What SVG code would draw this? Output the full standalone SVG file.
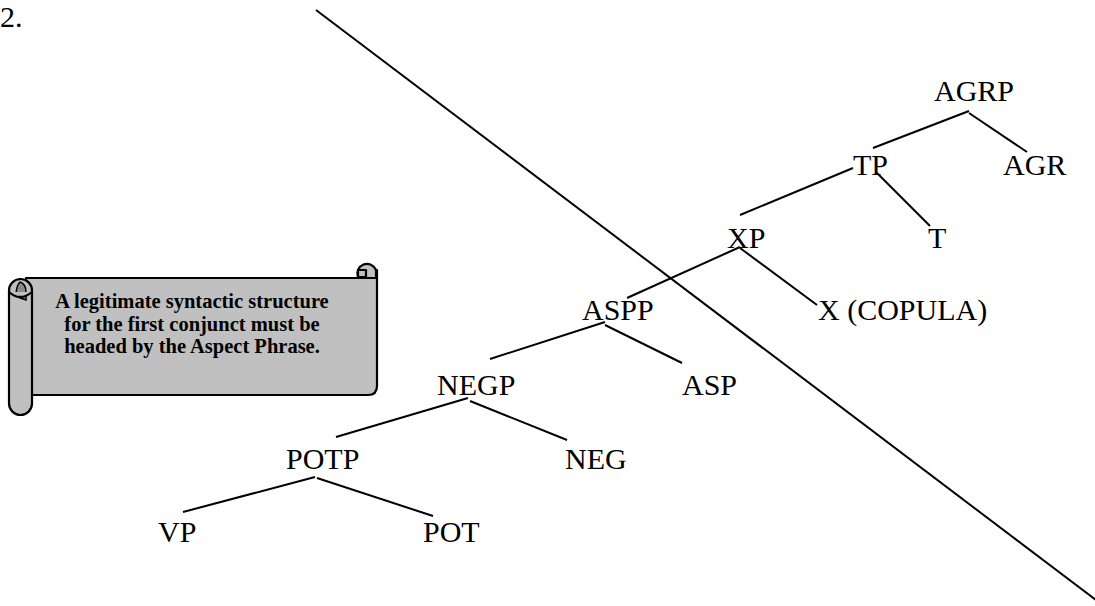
<svg xmlns="http://www.w3.org/2000/svg" width="1095" height="606" viewBox="0 0 1095 606">
<style>
.lbl{font-family:"Liberation Serif","Times New Roman",serif;font-size:30px;fill:#000}
.note{font-family:"Liberation Serif","Times New Roman",serif;font-size:20.5px;font-weight:bold;fill:#000;text-anchor:middle}
.edge{stroke:#000;stroke-width:2;fill:none}
.scroll{fill:#c0c0c0;stroke:#000;stroke-width:2.2;stroke-linejoin:round}
</style>
<rect width="1095" height="606" fill="#fff"/>
<text class="lbl" x="0" y="27">2.</text>
<g id="connectors">
<line class="edge" x1="316" y1="10" x2="1096" y2="600"/>
<line class="edge" x1="969" y1="111" x2="873" y2="148"/>
<line class="edge" x1="969" y1="113" x2="1027" y2="152"/>
<line class="edge" x1="853" y1="168" x2="740" y2="215"/>
<line class="edge" x1="877" y1="173" x2="930" y2="226"/>
<line class="edge" x1="740" y1="247" x2="627" y2="298"/>
<line class="edge" x1="740" y1="248" x2="817" y2="305"/>
<line class="edge" x1="605" y1="322" x2="490" y2="359"/>
<line class="edge" x1="605" y1="325" x2="682" y2="363"/>
<line class="edge" x1="468" y1="398" x2="336" y2="437"/>
<line class="edge" x1="470" y1="401" x2="567" y2="440"/>
<line class="edge" x1="315" y1="477" x2="183" y2="512"/>
<line class="edge" x1="317" y1="478" x2="433" y2="516"/>
</g>
<g id="n-agrp"><text class="lbl" x="934" y="101">AGRP</text></g>
<g id="n-tp"><text class="lbl" x="853" y="175">TP</text></g>
<g id="n-agr"><text class="lbl" x="1003" y="175">AGR</text></g>
<g id="n-xp"><text class="lbl" x="727" y="248">XP</text></g>
<g id="n-t"><text class="lbl" x="928" y="248">T</text></g>
<g id="n-aspp"><text class="lbl" x="582" y="320">ASPP</text></g>
<g id="n-x"><text class="lbl" x="818" y="320">X (COPULA)</text></g>
<g id="n-negp"><text class="lbl" x="437" y="395">NEGP</text></g>
<g id="n-asp"><text class="lbl" x="682" y="395">ASP</text></g>
<g id="n-potp"><text class="lbl" x="286" y="469">POTP</text></g>
<g id="n-neg"><text class="lbl" x="565" y="469">NEG</text></g>
<g id="n-vp"><text class="lbl" x="158" y="542">VP</text></g>
<g id="n-pot"><text class="lbl" x="423" y="542">POT</text></g>
<g id="scroll-note">
<path class="scroll" d="M 26 278 L 368 278 L 368 270 L 377 270 L 377 386 Q 377 395 368 395 L 26 395 Z"/>
<path class="scroll" d="M 358 277 A 9 9 0 1 1 376 270 L 376 278 L 358 278 Z"/>
<path class="scroll" d="M 358 270 L 366 270 L 366 277 L 358 277 Z"/>
<rect class="scroll" x="9" y="279" width="23" height="136" rx="11.5" ry="11.5"/>
<path d="M 20 282 Q 26 284 26 292 L 26 300 Q 20 298 16 296 Q 16 286 20 282 Z" fill="#8a8a8a" stroke="#000" stroke-width="1.5"/>
<path class="scroll" d="M 9 292 Q 20 302 32 292" fill="none"/>
<text class="note" x="192" y="308">A legitimate syntactic structure</text>
<text class="note" x="192" y="331">for the first conjunct must be</text>
<text class="note" x="192" y="353">headed by the Aspect Phrase.</text>
</g>
</svg>
